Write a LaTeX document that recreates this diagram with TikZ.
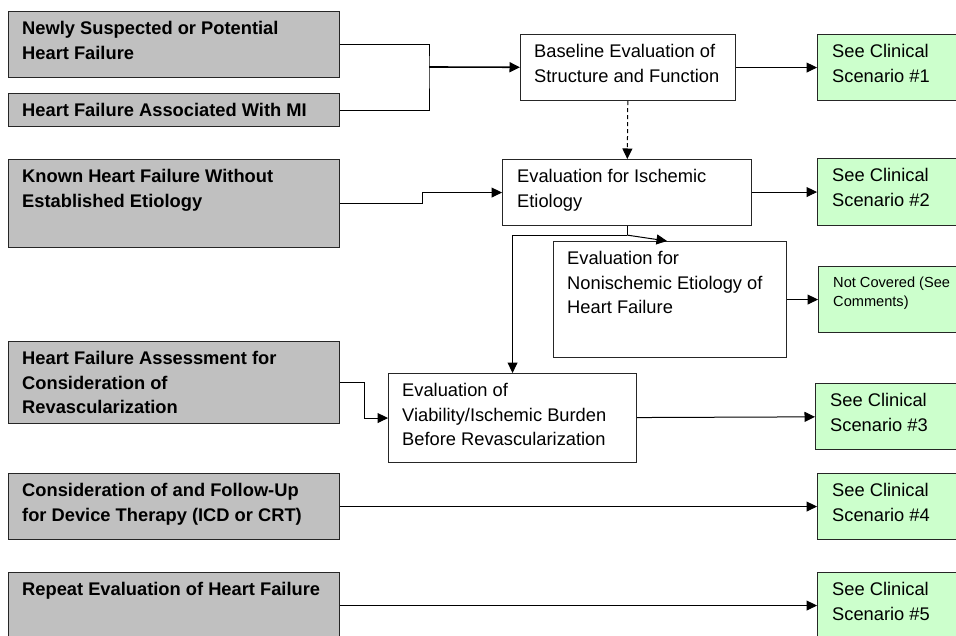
\documentclass[tikz,border=0pt]{standalone}
\usepackage{fontspec}
\setmainfont{Liberation Sans}
\usetikzlibrary{positioning, arrows.meta, calc}
\definecolor{inputgray}{RGB}{192,192,192}
\definecolor{scengreen}{RGB}{204,255,204}

\begin{document}
\begin{tikzpicture}[x=1pt, y=-1pt,
    inbox/.style={rectangle, draw=black!85, fill=inputgray, line width=1.1pt,
                  anchor=north west, minimum width=331, inner sep=0},
    evalbox/.style={rectangle, draw=black!85, fill=white, line width=1.1pt,
                  anchor=north west, inner sep=0},
    scenbox/.style={rectangle, draw=black!85, fill=scengreen, line width=1.1pt,
                  anchor=north west, minimum width=150, inner sep=0},
    boxtext/.style={anchor=north west, inner sep=0, align=left,
                  font=\fontsize{18.3}{24.5}\selectfont},
    intext/.style={boxtext, font=\fontsize{18.3}{24.5}\selectfont\bfseries},
    smalltext/.style={boxtext, font=\fontsize{14.6}{19}\selectfont},
    link/.style={line width=1pt},
    arrow/.style={->, >={Triangle[length=10.5pt, width=10pt]}, line width=1pt}
]
    \useasboundingbox (0,0) rectangle (956,636);
    \clip (0,0) rectangle (956,636);

    % Input boxes
    \node[inbox, minimum height=66] (newhf) at (8,11) {};
    \node[inbox, minimum height=33] (hfmi) at (8,93) {};
    \node[inbox, minimum height=88] (known) at (8,159) {};
    \node[inbox, minimum height=82] (revasc) at (8,341) {};
    \node[inbox, minimum height=66] (device) at (8,473) {};
    \node[inbox, minimum height=66] (repeathf) at (8,572) {};

    \node[intext] (newhf-t) at ([shift={(14,10.5)}]newhf.north west) {Newly Suspected or Potential\\Heart Failure};
    \node[intext] (hfmi-t) at ([shift={(14,10.5)}]hfmi.north west) {Heart Failure Associated With MI};
    \node[intext] (known-t) at ([shift={(14,10.5)}]known.north west) {Known Heart Failure Without\\Established Etiology};
    \node[intext] (revasc-t) at ([shift={(14,10.5)}]revasc.north west) {Heart Failure Assessment for\\Consideration of\\Revascularization};
    \node[intext] (device-t) at ([shift={(14,10.5)}]device.north west) {Consideration of and Follow-Up\\for Device Therapy (ICD or CRT)};
    \node[intext] (repeathf-t) at ([shift={(14,10.5)}]repeathf.north west) {Repeat Evaluation of Heart Failure};

    % Evaluation boxes
    \node[evalbox, minimum width=215, minimum height=66] (baseeval) at (520,34) {};
    \node[evalbox, minimum width=249, minimum height=66] (ischemic) at (502,159) {};
    \node[evalbox, minimum width=233, minimum height=116] (nonisch) at (553,241) {};
    \node[evalbox, minimum width=248, minimum height=89] (viab) at (388,373) {};

    \node[boxtext] (baseeval-t) at ([shift={(14,10.5)}]baseeval.north west) {Baseline Evaluation of\\Structure and Function};
    \node[boxtext] (ischemic-t) at ([shift={(15,10.5)}]ischemic.north west) {Evaluation for Ischemic\\Etiology};
    \node[boxtext] (nonisch-t) at ([shift={(14,10.5)}]nonisch.north west) {Evaluation for\\Nonischemic Etiology of\\Heart Failure};
    \node[boxtext] (viab-t) at ([shift={(14,10.5)}]viab.north west) {Evaluation of\\Viability/Ischemic Burden\\Before Revascularization};

    % Scenario boxes
    \node[scenbox, minimum height=66] (scen1) at (817,34) {};
    \node[scenbox, minimum height=67] (scen2) at (817,158) {};
    \node[scenbox, minimum height=66] (notcov) at (818,266) {};
    \node[scenbox, minimum height=66] (scen3) at (815,383) {};
    \node[scenbox, minimum height=66] (scen4) at (817,473) {};
    \node[scenbox, minimum height=66] (scen5) at (817,572) {};

    \node[boxtext] (scen1-t) at ([shift={(15,10.5)}]scen1.north west) {See Clinical\\Scenario \#1};
    \node[boxtext] (scen2-t) at ([shift={(15,10.5)}]scen2.north west) {See Clinical\\Scenario \#2};
    \node[smalltext] (notcov-t) at ([shift={(15,11)}]notcov.north west) {Not Covered (See\\Comments)};
    \node[boxtext] (scen3-t) at ([shift={(15,10.5)}]scen3.north west) {See Clinical\\Scenario \#3};
    \node[boxtext] (scen4-t) at ([shift={(15,10.5)}]scen4.north west) {See Clinical\\Scenario \#4};
    \node[boxtext] (scen5-t) at ([shift={(15,10.5)}]scen5.north west) {See Clinical\\Scenario \#5};

    % Connections
    \coordinate (join) at (429,67);
    \draw[link] (newhf.east) -| (join) |- (hfmi.east);
    \draw[arrow, line width=1.6pt] (join) -- (baseeval);
    \draw[arrow] (baseeval) -- (scen1);
    \draw[arrow, dash pattern=on 4pt off 3pt] (baseeval) -- (ischemic);

    \draw[arrow] (known.east) -- ++(82,0) |- (ischemic);
    \draw[arrow] (ischemic.east) -- ++(32,0) |- (scen2);

    \coordinate (split) at ($(ischemic.south)+(0,9)$);
    \draw[link] (ischemic.south) -- (split);
    \draw[arrow] (split) -| (viab);
    \draw[arrow] (split) -- ($(nonisch.north west)+(114,0)$);
    \draw[arrow] (nonisch) -- (notcov);

    \draw[arrow] (revasc.east) -- ++(24,0) |- (viab);
    \draw[arrow] (viab) -- (scen3);
    \draw[arrow] (device) -- (scen4);
    \draw[arrow] (repeathf) -- (scen5);
\end{tikzpicture}
\end{document}
